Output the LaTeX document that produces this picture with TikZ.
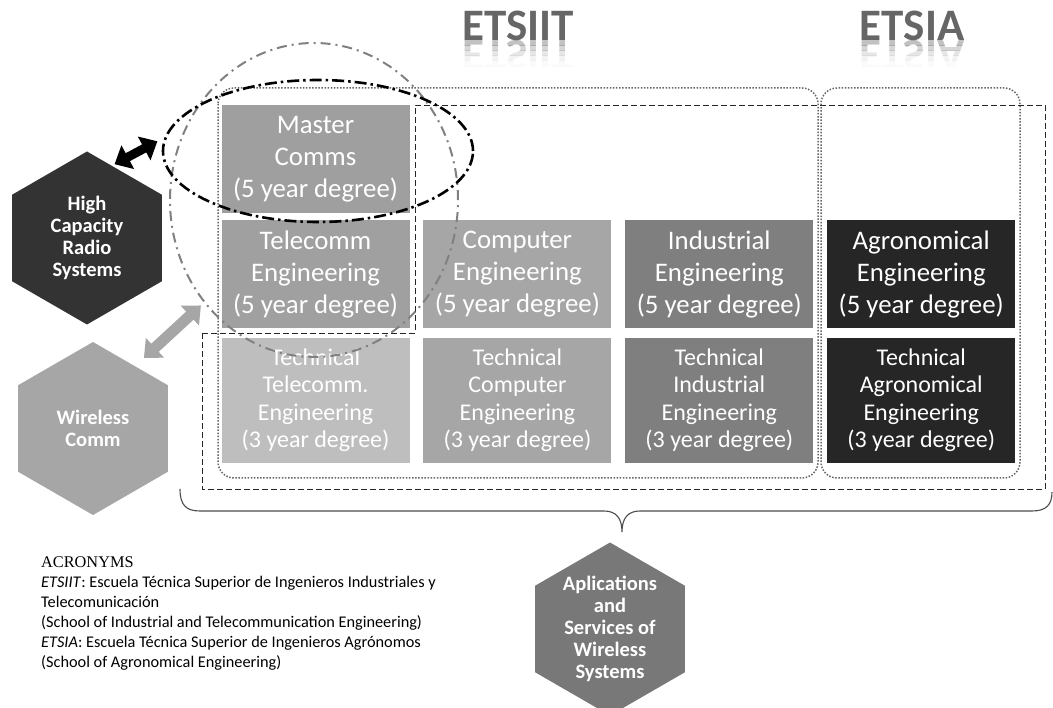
\documentclass[tikz,border=0pt]{standalone}
\usepackage{fontspec}
\setmainfont{Carlito}
\newfontfamily\headfont{Liberation Serif}
\usepackage{tikz}
\usetikzlibrary{positioning,arrows.meta,shapes.geometric}

\definecolor{mastergray}{HTML}{9F9F9F}
\definecolor{telegray}{HTML}{A0A0A0}
\definecolor{ttelegray}{HTML}{BEBEBE}
\definecolor{compgray}{HTML}{A6A6A6}
\definecolor{indgray}{HTML}{7F7F7F}
\definecolor{agrogray}{HTML}{262626}
\definecolor{hcrsgray}{HTML}{333333}
\definecolor{wcommgray}{HTML}{A6A6A6}
\definecolor{appsgray}{HTML}{787878}
\definecolor{titlegray}{HTML}{666666}

\begin{document}
\begin{tikzpicture}[x=1pt,y=-1pt,
  degree/.style={rectangle,minimum width=188pt,minimum height=108pt,inner sep=2pt,
    align=center,text=white,font=\fontsize{26.8}{32}\selectfont},
  tdegree/.style={degree,minimum height=125pt,font=\fontsize{24}{27.5}\selectfont},
  hexa/.style={regular polygon,regular polygon sides=6,regular polygon rotate=30,
    minimum size=173pt,inner sep=0pt,align=center,text=white,
    font=\fontsize{20.5}{22}\selectfont\bfseries},
  school/.style={text=titlegray,font=\fontsize{45}{46}\selectfont\bfseries,inner sep=0pt},
  ring/.style={ellipse,draw,inner sep=0pt},
  campus/.style={draw=black!60,line width=1.5pt,dash pattern=on 1.5pt off 1.6pt,rounded corners=16pt},
  bigarrow/.style={line width=9pt,{Triangle[width=26pt,length=15pt]}-{Triangle[width=26pt,length=15pt]}},
  brace/.style={draw=black!70,line width=1.1pt}]
  \useasboundingbox (0,0) rectangle (1053,708);

  % school names with their reflection
  \node[school,anchor=base] (etsiit) at (518,41) {ETSIIT};
  \node[school,anchor=base] (etsia) at (912,41) {ETSIA};
  \foreach \ya/\yb/\op in {41/46/0.4,46/51/0.27,51/56/0.16,56/61/0.08,61/67/0.03} {
    \begin{scope}
      \clip (430,\ya) rectangle (1000,\yb);
      \node[school,anchor=base,yscale=-1,opacity=\op] at (etsiit.base) {ETSIIT};
      \node[school,anchor=base,yscale=-1,opacity=\op] at (etsia.base) {ETSIA};
    \end{scope}
  }

  % degrees
  \node[degree,fill=mastergray] (master) at (315.5,159) {Master\\Comms\\(5 year degree)};
  \node[degree,fill=telegray] (telecomm) [below=7pt of master] {Telecomm\\Engineering\\(5 year degree)};
  \node[tdegree,fill=ttelegray] (ttelecomm) [below=9pt of telecomm] {Technical\\Telecomm.\\Engineering\\(3 year degree)};
  \node[degree,fill=compgray] (computer) [right=13.5pt of telecomm] {Computer\\Engineering\\(5 year degree)};
  \node[tdegree,fill=compgray] (tcomputer) [below=9pt of computer] {Technical\\Computer\\Engineering\\(3 year degree)};
  \node[degree,fill=indgray] (industrial) [right=13.5pt of computer] {Industrial\\Engineering\\(5 year degree)};
  \node[tdegree,fill=indgray] (tindustrial) [below=9pt of industrial] {Technical\\Industrial\\Engineering\\(3 year degree)};
  \node[degree,fill=agrogray] (agro) [right=13.5pt of industrial] {Agronomical\\Engineering\\(5 year degree)};
  \node[tdegree,fill=agrogray] (tagro) [below=9pt of agro] {Technical\\Agronomical\\Engineering\\(3 year degree)};

  % schools and application area
  \draw[campus] (218,88) rectangle (818,478);
  \draw[campus] (821,88) rectangle (1020,478);
  \draw[black!85,line width=0.9pt,dash pattern=on 6pt off 3pt]
    (202,333) -- (415,333) -- (415,105) -- (1045,105) -- (1045,489) -- (202,489) -- cycle;

  % research lines
  \node[hexa,fill=hcrsgray] (hcrs) at (87,238) {High\\Capacity\\Radio\\Systems};
  \node[hexa,fill=wcommgray] (wcomm) at (93,428.5) {Wireless\\Comm};
  \node[hexa,fill=appsgray] (apps) at (610,629) {Aplications\\and\\Services of\\Wireless\\Systems};

  \node[ring,black!50,line width=2pt,dash pattern=on 10pt off 5pt on 2pt off 5pt,
    minimum width=288pt,minimum height=314pt] (commring) at (314,200) {};
  \node[ring,black,line width=2.6pt,dash pattern=on 12pt off 4pt on 2.5pt off 4pt,
    minimum width=310pt,minimum height=142pt] (masterring) at (318,151) {};

  \draw[bigarrow,black,shorten <=3pt,shorten >=8pt] (hcrs.71) -- (masterring.175);
  \draw[bigarrow,wcommgray,line width=11pt,shorten <=12pt,shorten >=4pt] (wcomm.56) -- (commring.223);

  % brace over the degrees
  \draw[brace] (180,489) .. controls (180,505) and (186,511) .. (200,511) -- (604,511)
    .. controls (616,511) and (622,518) .. (622,532)
    .. controls (622,518) and (628,511) .. (640,511) -- (1032,511)
    .. controls (1046,511) and (1052,505) .. (1052,492);

  % acronyms
  \node[anchor=north west,align=left,inner sep=0pt,font=\fontsize{16.3}{20}\selectfont] (acronyms) at (41,557)
    {{\headfont ACRONYMS}\\
     \textit{ETSIIT}: Escuela Técnica Superior de Ingenieros Industriales y\\
     Telecomunicación\\
     (School of Industrial and Telecommunication Engineering)\\
     \textit{ETSIA}: Escuela Técnica Superior de Ingenieros Agrónomos\\
     (School of Agronomical Engineering)};
\end{tikzpicture}
\end{document}
